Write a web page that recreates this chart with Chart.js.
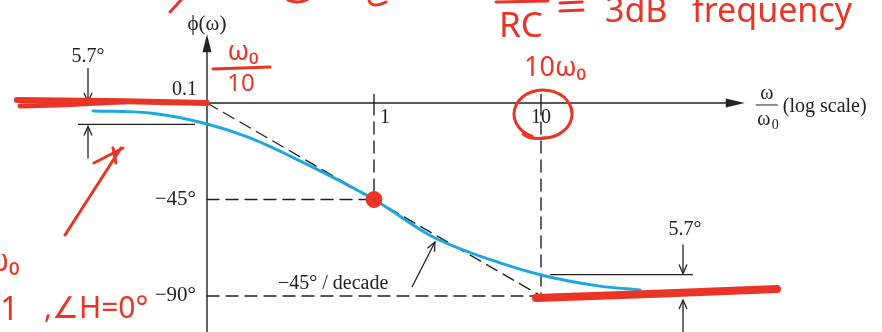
<!DOCTYPE html>
<html>
<head>
<meta charset="utf-8">
<script src="https://cdn.jsdelivr.net/npm/chart.js@4/dist/chart.umd.min.js"></script>
<style>
  html, body { margin: 0; padding: 0; background: #fff; }
  #wrap { width: 882px; height: 332px; position: relative; }
</style>
</head>
<body>
<div id="wrap"><canvas id="phasePlot"></canvas></div>
<script>
// phase response of a first-order low-pass, w/w0 on a log axis, phase in degrees
const curveW     = [0.0208, 0.0456, 0.1, 0.181, 0.36, 1, 2.26, 5.68, 10, 22.5, 39.2];
const curvePhase = [-3.7, -4.7, -9.8, -16.3, -27.0, -45, -62.5, -74.6, -80.2, -85.4, -87.2];

// straight-line approximation (-45 deg/decade between w0/10 and 10 w0)
const asymW     = [0.1, 10];
const asymPhase = [0, -90];
const lowFlatW  = [0.0323, 0.1];
const highFlatW = [10, 45];

// axis ticks
const tickW       = [0.1, 1, 10];
const tickLabels  = ['0.1', '1', '10'];
const phaseTicks  = [-45, -90];
const phaseLabels = ['−45°', '−90°'];

// 5.7 deg error brackets (drawn exaggerated)
const bracketLow  = -10;
const bracketHigh = -80;

// red marker strokes over the asymptotes
const redLowW      = [0.00728, 0.0323, 0.1];
const redLowPhase  = [1.4, 0.8, 0];
const redLow2W     = [0.00759, 0.01318, 0.0323];
const redLow2Phase = [-1.4, -0.9, 0.6];
const redHighW     = [9.34, 45, 258.8];
const redHighPhase = [-91, -89.1, -86.8];

const BLUE = '#1fa8e0';
const RED = '#ea3425';
const INK = '#222';
const SERIF = '"Liberation Serif", "DejaVu Serif", serif';
const HAND = '"Noto Sans", "DejaVu Sans", sans-serif';

const pts = (xs, ys) => xs.map((x, i) => ({ x: x, y: ys[i] }));

function line(data, color, width, dash, order) {
  return {
    data: data,
    showLine: true,
    borderColor: color,
    borderWidth: width,
    borderDash: dash || [],
    borderCapStyle: 'round',
    pointRadius: 0,
    fill: false,
    order: order
  };
}

function vHead(ctx, x, y, ang, len, half) {
  // open V arrow head pointing along ang
  const bx = x - Math.cos(ang) * len, by = y - Math.sin(ang) * len;
  const nx = -Math.sin(ang) * half, ny = Math.cos(ang) * half;
  ctx.beginPath();
  ctx.moveTo(bx + nx, by + ny);
  ctx.lineTo(x, y);
  ctx.lineTo(bx - nx, by - ny);
  ctx.stroke();
}

function solidHead(ctx, x, y, ang, len, half) {
  const bx = x - Math.cos(ang) * len, by = y - Math.sin(ang) * len;
  const nx = -Math.sin(ang) * half, ny = Math.cos(ang) * half;
  ctx.beginPath();
  ctx.moveTo(x, y);
  ctx.lineTo(bx + nx, by + ny);
  ctx.lineTo(bx - nx, by - ny);
  ctx.closePath();
  ctx.fill();
}

function arrow(ctx, x0, y0, x1, y1) {
  ctx.beginPath();
  ctx.moveTo(x0, y0);
  ctx.lineTo(x1, y1);
  ctx.stroke();
  vHead(ctx, x1, y1, Math.atan2(y1 - y0, x1 - x0), 9, 4);
}

function text(ctx, s, x, y, font, align, base, color) {
  ctx.font = font;
  ctx.textAlign = align || 'left';
  ctx.textBaseline = base || 'middle';
  ctx.fillStyle = color || INK;
  ctx.fillText(s, x, y);
}

// axes, tick labels and the printed annotations
const axesPlugin = {
  id: 'axesPlugin',
  beforeDatasetsDraw(chart) {
    const ctx = chart.ctx;
    const X = v => chart.scales.x.getPixelForValue(v);
    const Y = v => chart.scales.y.getPixelForValue(v);
    const ox = X(0.1), oy = Y(0);
    ctx.save();
    ctx.strokeStyle = INK;
    ctx.fillStyle = INK;
    ctx.lineWidth = 1.4;

    // vertical axis
    ctx.beginPath();
    ctx.moveTo(ox, chart.height);
    ctx.lineTo(ox, Y(30));
    ctx.stroke();
    solidHead(ctx, ox, Y(32), -Math.PI / 2, 18, 4.5);

    // horizontal axis
    const xEnd = X(166);
    ctx.beginPath();
    ctx.moveTo(ox, oy);
    ctx.lineTo(xEnd - 12, oy);
    ctx.stroke();
    solidHead(ctx, xEnd, oy, 0, 19, 4.5);

    // tick marks at 1 and 10
    tickW.slice(1).forEach(w => {
      ctx.beginPath();
      ctx.moveTo(X(w), oy - 9);
      ctx.lineTo(X(w), oy);
      ctx.stroke();
    });

    const f20 = '20px ' + SERIF;
    const f21 = '21px ' + SERIF;
    text(ctx, tickLabels[0], ox - 10, oy - 13, f20, 'right');
    text(ctx, tickLabels[1], X(tickW[1]) + 6, oy + 15, f20, 'left');
    text(ctx, tickLabels[2], X(tickW[2]), oy + 15, f20, 'center');
    phaseTicks.forEach((p, i) => text(ctx, phaseLabels[i], ox - 11, Y(p), f21, 'right'));

    text(ctx, 'ϕ(ω)', ox, 24, f21, 'center');

    // w / w0 (log scale)
    const fx = xEnd + 11;
    text(ctx, 'ω', fx + 11, oy - 9, f20, 'center');
    ctx.lineWidth = 1;
    ctx.beginPath();
    ctx.moveTo(fx, oy + 2);
    ctx.lineTo(fx + 22, oy + 2);
    ctx.stroke();
    text(ctx, 'ω', fx + 8, oy + 17, f20, 'center');
    text(ctx, '0', fx + 16, oy + 22, '14px ' + SERIF, 'left');
    text(ctx, '(log scale)', fx + 27, oy + 4, f20, 'left');

    // left 5.7 deg bracket
    ctx.lineWidth = 1.3;
    const lx = ox - 119;
    text(ctx, '5.7°', lx, 57, f20, 'center');
    arrow(ctx, lx, 68, lx, oy - 1);
    ctx.beginPath();
    ctx.moveTo(ox - 129, Y(bracketLow));
    ctx.lineTo(ox - 12, Y(bracketLow));
    ctx.stroke();
    arrow(ctx, lx, Y(bracketLow) + 34, lx, Y(bracketLow) + 2);

    // right 5.7 deg bracket
    const rx = X(10) + 142;
    ctx.beginPath();
    ctx.moveTo(X(10) + 9, Y(bracketHigh));
    ctx.lineTo(rx + 10, Y(bracketHigh));
    ctx.stroke();
    text(ctx, '5.7°', rx + 2, Y(bracketHigh) - 45, f20, 'center');
    arrow(ctx, rx, Y(bracketHigh) - 30, rx, Y(bracketHigh) - 1);
    arrow(ctx, rx, chart.height + 2, rx, Y(-90) + 4);

    // slope label
    text(ctx, '−45° / decade', 278, Y(-90) - 12, f20, 'left');
    arrow(ctx, 412, Y(-90) - 9, 435, Y(-90) - 54);
    ctx.restore();
  },

  // handwritten notes on top
  afterDatasetsDraw(chart) {
    const ctx = chart.ctx;
    const X = v => chart.scales.x.getPixelForValue(v);
    const Y = v => chart.scales.y.getPixelForValue(v);
    const ox = X(0.1), oy = Y(0);
    ctx.save();
    ctx.strokeStyle = RED;
    ctx.fillStyle = RED;
    ctx.lineWidth = 3;
    ctx.lineCap = 'round';
    ctx.lineJoin = 'round';

    // w0 / 10 beside the origin
    const cx = ox + 36;
    text(ctx, 'ω₀', cx, 52, '27px ' + HAND, 'center', 'middle', RED);
    ctx.beginPath();
    ctx.moveTo(cx - 30, 69);
    ctx.lineTo(cx + 27, 67);
    ctx.stroke();
    text(ctx, '10', cx - 2, 84, '24px ' + HAND, 'center', 'middle', RED);

    // 10 w0 and the ring around the tick label
    text(ctx, '10ω₀', X(10) + 14, 68, '27px ' + HAND, 'center', 'middle', RED);
    const ex = X(10) + 2, ey = oy + 11;
    ctx.beginPath();
    ctx.ellipse(ex, ey, 29, 24, 0, 0.62 * Math.PI, 2.5 * Math.PI);
    ctx.stroke();
    ctx.beginPath();
    ctx.moveTo(ex + 2, ey + 24);
    ctx.quadraticCurveTo(ex - 14, ey + 26, ex - 20, ey + 20);
    ctx.stroke();

    // top line: 1/RC = 3dB frequency (cut by the edge)
    ctx.beginPath();
    ctx.moveTo(496, 2);
    ctx.lineTo(548, 1);
    ctx.stroke();
    text(ctx, 'RC', 499, 37, '35px ' + HAND, 'left', 'alphabetic', RED);
    ctx.beginPath();
    ctx.moveTo(560, 3); ctx.lineTo(582, 2);
    ctx.moveTo(560, 11); ctx.lineTo(583, 10);
    ctx.stroke();
    text(ctx, '3dB', 605, 22, '34px ' + HAND, 'left', 'alphabetic', RED);
    text(ctx, 'frequency', 692, 22, '34px ' + HAND, 'left', 'alphabetic', RED);

    // cut-off strokes at the top-left
    ctx.beginPath();
    ctx.moveTo(170, 12); ctx.lineTo(181, 0);
    ctx.moveTo(288, 0); ctx.quadraticCurveTo(298, 4, 307, 0);
    ctx.moveTo(369, 0); ctx.quadraticCurveTo(371, 9, 386, 2);
    ctx.stroke();

    // arrow pointing at the bracket
    ctx.beginPath();
    ctx.moveTo(65, 235); ctx.lineTo(121, 148);
    ctx.moveTo(94, 163); ctx.lineTo(123, 148);
    ctx.moveTo(113, 148); ctx.lineTo(116, 163);
    ctx.stroke();

    // w0 ... 1, angle H = 0
    text(ctx, 'ω₀', -15, 262, '30px ' + HAND, 'left', 'middle', RED);
    text(ctx, '1', 0, 320, '33px ' + HAND, 'left', 'alphabetic', RED);
    text(ctx, ',∠H=0°', 44, 318, '30px ' + HAND, 'left', 'alphabetic', RED);
    ctx.restore();
  }
};

new Chart(document.getElementById('phasePlot'), {
  type: 'scatter',
  data: {
    datasets: [
      // red marker strokes
      line(pts(redLowW, redLowPhase), RED, 6, null, 0),
      line(pts(redLow2W, redLow2Phase), RED, 5, null, 0),
      line(pts(redHighW, redHighPhase), RED, 8, null, 0),
      {
        data: [{ x: 1, y: -45 }],
        pointRadius: 8,
        pointBackgroundColor: RED,
        pointBorderColor: RED,
        order: 0
      },
      // exact phase curve
      Object.assign(line(pts(curveW, curvePhase), BLUE, 3, null, 5), { tension: 0.4, cubicInterpolationMode: 'monotone' }),
      // asymptotes and guides
      line(pts(asymW, asymPhase), INK, 1.4, [12, 7], 10),
      line(pts(lowFlatW, [0, 0]), INK, 1.4, null, 10),
      line(pts(highFlatW, [-90, -90]), INK, 1.4, null, 10),
      line(pts([0.1, 1], [-45, -45]), INK, 1.4, [12, 7], 10),
      line(pts([1, 1], [0, -45]), INK, 1.4, [12, 7], 10),
      line(pts([0.1, 10], [-90, -90]), INK, 1.4, [12, 7], 10),
      line(pts([10, 10], [0, -90]), INK, 1.4, [12, 7], 10)
    ]
  },
  options: {
    responsive: true,
    maintainAspectRatio: false,
    animation: false,
    events: [],
    layout: { padding: 0, autoPadding: false },
    plugins: { legend: { display: false }, tooltip: { enabled: false } },
    scales: {
      x: { type: 'logarithmic', min: Math.pow(10, -2.2395), max: Math.pow(10, 3.0419), display: false },
      y: { type: 'linear', min: -106.8, max: 48.03, display: false }
    }
  },
  plugins: [axesPlugin]
});
</script>
</body>
</html>
